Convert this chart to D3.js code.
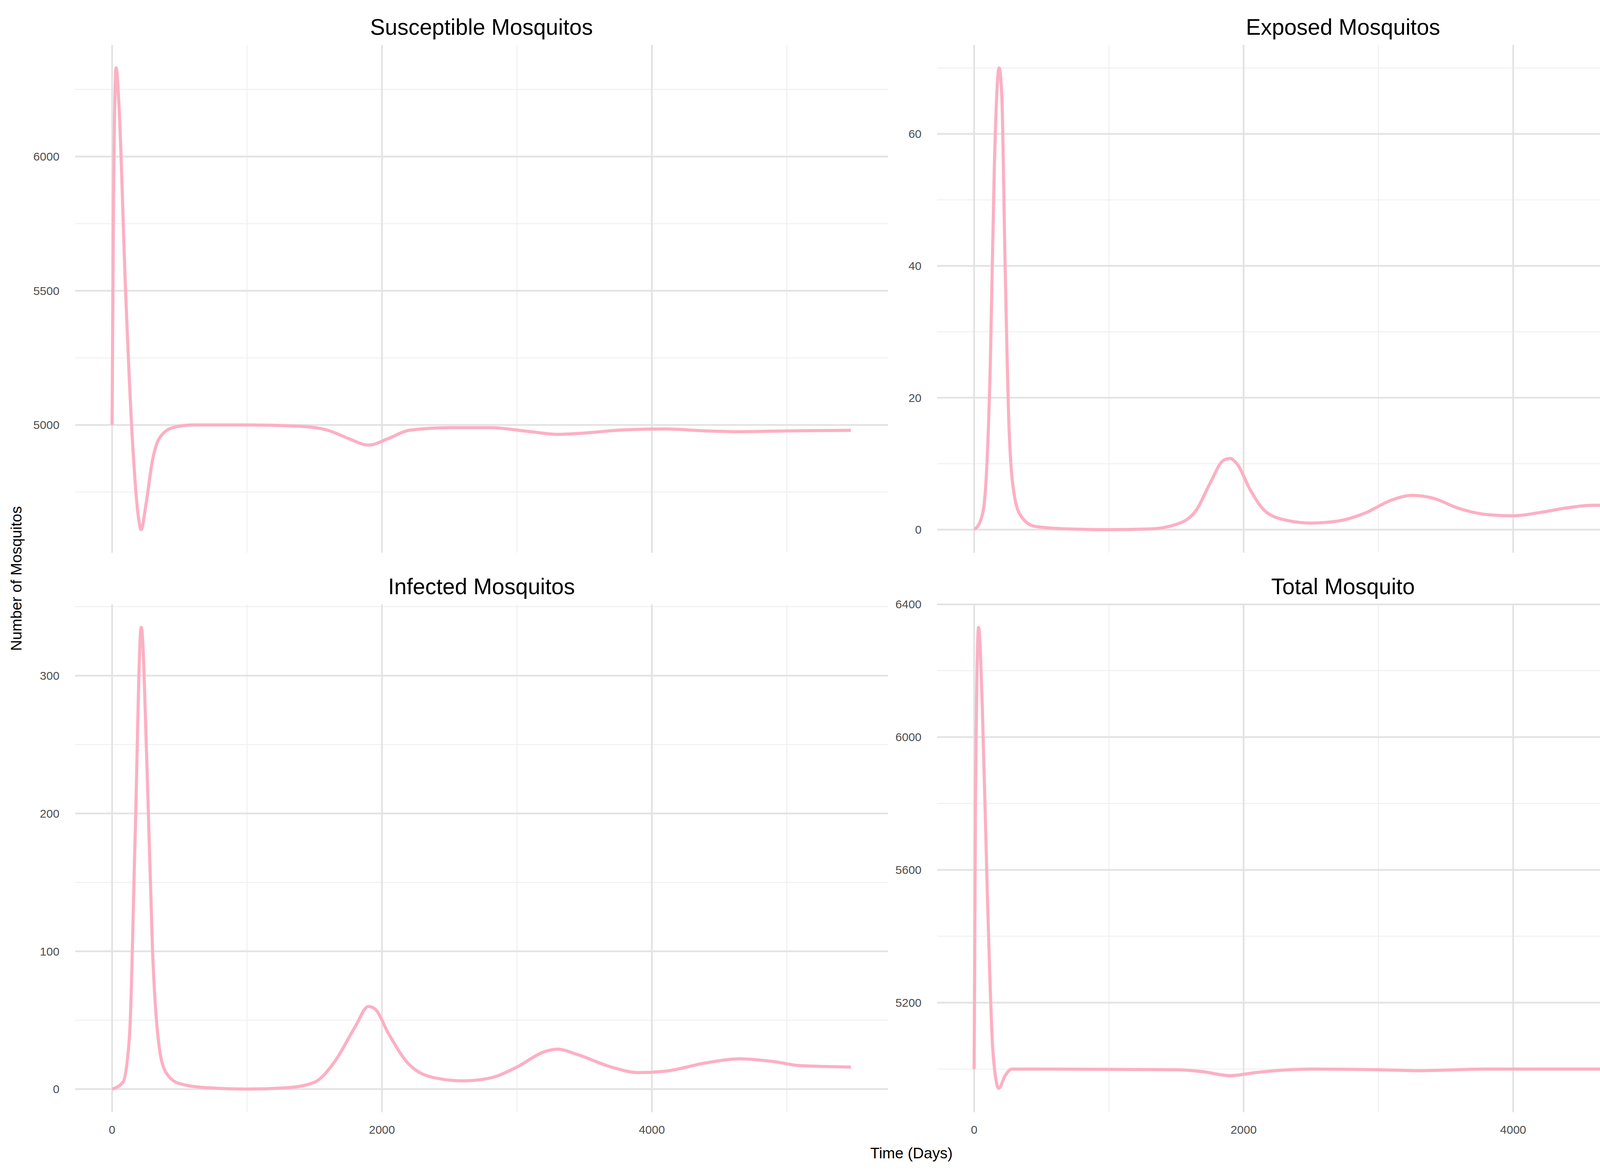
<!DOCTYPE html>
<html><head><meta charset="utf-8">
<script src="https://cdn.jsdelivr.net/npm/d3@7"></script>
<style>html,body{margin:0;padding:0;background:#fff;overflow:hidden}svg{display:block}text{font-family:"Liberation Sans",Arial,sans-serif}</style>
</head><body>
<svg width="4500" height="3000" viewBox="0 0 4500 3000"></svg>
<script>
// series values: [day, count]
var susceptible = [[0,5000],[10,5800],[30,6330],[50,6200],[100,5500],[150,4950],[200,4640],[215,4610],[250,4700],[300,4870],[350,4950],[450,4990],[600,5000],[1000,5000],[1400,4995],[1600,4980],[1750,4950],[1900,4925],[2050,4950],[2200,4980],[2500,4990],[2800,4990],[3100,4975],[3300,4965],[3500,4970],[3800,4982],[4100,4985],[4400,4978],[4650,4975],[5000,4978],[5475,4980]]
var exposed = [[0,0],[50,1.5],[80,5],[120,25],[150,55],[185,70],[205,66],[230,40],[260,15],[300,5],[350,2],[450,0.5],[700,0.1],[1000,0],[1300,0.1],[1500,0.8],[1650,3],[1750,7],[1850,10.5],[1900,10.8],[1950,10],[2050,6],[2150,3],[2300,1.5],[2500,1],[2700,1.3],[2900,2.5],[3100,4.5],[3250,5.2],[3400,4.8],[3600,3.2],[3800,2.3],[4000,2.1],[4200,2.6],[4400,3.3],[4600,3.7],[4800,3.5],[5000,3],[5200,2.7],[5475,2.8]]
var infected = [[0,0],[80,5],[130,40],[170,180],[216,335],[260,230],[300,100],[350,30],[400,12],[500,4],[700,1],[1000,0],[1300,1],[1500,5],[1650,20],[1800,45],[1900,60],[1950,58],[2050,40],[2200,18],[2400,8],[2600,6],[2800,8],[3000,16],[3200,27],[3300,29],[3450,25],[3700,16],[3900,12],[4100,13],[4400,19],[4650,22],[4900,20],[5100,17],[5475,16]]
var total = [[0,5000],[10,5800],[33,6330],[60,6100],[100,5500],[140,5050],[183,4942],[230,4980],[280,5000],[500,5000],[1500,4998],[1700,4992],[1900,4980],[2100,4990],[2500,5000],[3000,4998],[3300,4995],[3800,5000],[5475,5000]]

var titles = ['Susceptible Mosquitos', 'Exposed Mosquitos', 'Infected Mosquitos', 'Total Mosquito']
var xTicks = [0, 2000, 4000]
var yTickSets = [[5000, 5500, 6000], [0, 20, 40, 60], [0, 100, 200, 300], [5200, 5600, 6000, 6400]]
var yDomains = [[4524, 6416], [-3.5, 73.5], [-16.75, 351.75], [4870, 6400]]
var allSeries = [susceptible, exposed, infected, total]

var k = 4500 / 1568
var svg = d3.select('svg')
var lefts = [67, 836], widths = [725, 724]
var tops = [40, 539], h = 453

allSeries.forEach(function (data, i) {
  var col = i % 2, row = Math.floor(i / 2)
  var x0 = lefts[col] * k, y0 = tops[row] * k, w = widths[col] * k, hh = h * k
  var g = svg.append('g').attr('transform', 'translate(' + x0 + ',' + y0 + ')')
  var x = d3.scaleLinear().domain([-274, 5749]).range([0, w])
  var y = d3.scaleLinear().domain(yDomains[i]).range([hh, 0])
  var yt = yTickSets[i]
  var step = yt[1] - yt[0]
  var minorY = d3.range(yt[0] - step / 2, yt[yt.length - 1] + step, step).filter(function (v) { return v > yDomains[i][0] && v < yDomains[i][1] })
  var minorX = [1000, 3000, 5000]
  g.selectAll('.mx').data(minorX).enter().append('line')
    .attr('x1', x).attr('x2', x).attr('y1', 0).attr('y2', hh).attr('stroke', '#f0f0f0').attr('stroke-width', 2.5)
  g.selectAll('.my').data(minorY).enter().append('line')
    .attr('y1', y).attr('y2', y).attr('x1', 0).attr('x2', w).attr('stroke', '#f0f0f0').attr('stroke-width', 2.5)
  g.selectAll('.gx').data(xTicks).enter().append('line')
    .attr('x1', x).attr('x2', x).attr('y1', 0).attr('y2', hh).attr('stroke', '#e3e3e3').attr('stroke-width', 4.5)
  g.selectAll('.gy').data(yt).enter().append('line')
    .attr('y1', y).attr('y2', y).attr('x1', 0).attr('x2', w).attr('stroke', '#e3e3e3').attr('stroke-width', 4.5)
  g.selectAll('.ty').data(yt).enter().append('text')
    .attr('x', -14 * k).attr('y', y).attr('dy', '0.35em').attr('text-anchor', 'end')
    .attr('font-size', 30).attr('fill', '#4d4d4d').text(function (d) { return d })
  if (row === 1) {
    g.selectAll('.tx').data(xTicks).enter().append('text')
      .attr('x', x).attr('y', hh + 12 * k).attr('dy', '0.7em').attr('text-anchor', 'middle')
      .attr('font-size', 30).attr('fill', '#4d4d4d').text(function (d) { return d })
  }
  g.append('text').attr('x', w / 2).attr('y', -9 * k).attr('text-anchor', 'middle')
    .attr('font-size', 57).attr('fill', '#000').text(titles[i])
  var line = d3.line().x(function (d) { return x(d[0]) }).y(function (d) { return y(d[1]) }).curve(d3.curveMonotoneX)
  g.append('path').datum(data).attr('d', line).attr('fill', 'none')
    .attr('stroke', '#fcb0c3').attr('stroke-width', 8).attr('stroke-linejoin', 'round')
})

svg.append('text').attr('x', 813 * k).attr('y', 1033 * k).attr('text-anchor', 'middle')
  .attr('font-size', 39).text('Time (Days)')
svg.append('text').attr('transform', 'translate(' + 19 * k + ',' + 516 * k + ') rotate(-90)')
  .attr('text-anchor', 'middle').attr('font-size', 39).text('Number of Mosquitos')
</script>
</body></html>
